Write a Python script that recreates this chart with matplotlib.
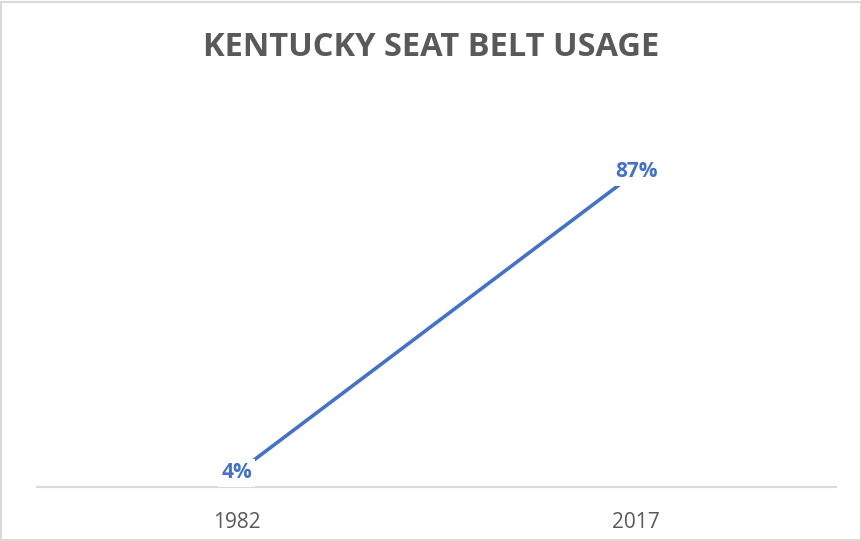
import matplotlib.pyplot as plt

years = ['1982', '2017']
usage = [4, 87]
labels = ['4%', '87%']

blue = '#4472C4'
gray = '#595959'

fig = plt.figure(figsize=(8.62, 5.41), dpi=100)
ax = fig.add_axes([0.0429, 0.0989, 0.9271, 0.6704])

x = list(range(len(years)))
ax.plot(x, usage, color=blue, linewidth=2.6, solid_capstyle='butt', zorder=2)

# data labels sit on the points with a white box, like the excel chart
for xi, v, lab in zip(x, usage, labels):
    ax.annotate(lab, (xi, v), ha='center', va='center', fontsize=15,
                fontweight='bold', color=blue, family='Open Sans', zorder=3,
                bbox=dict(boxstyle='square,pad=0.15', fc='white', ec='none'))

ax.set_xlim(-0.5, 1.5)
ax.set_ylim(0, 100)
ax.set_xticks(x)
ax.set_xticklabels(years, fontsize=15, color=gray, family='Open Sans')
ax.tick_params(axis='x', length=0, pad=18)
ax.set_yticks([])
for side in ['top', 'right', 'left']:
    ax.spines[side].set_visible(False)
ax.spines['bottom'].set_color('#D9D9D9')
ax.spines['bottom'].set_linewidth(1.5)
ax.spines['bottom'].set_zorder(1)

fig.text(0.5, 0.913, 'KENTUCKY SEAT BELT USAGE', ha='center', va='center',
         fontsize=23.5, fontweight='bold', color=gray, family='Open Sans')

# light border around the whole chart
fig.patches.append(plt.Rectangle((0.001, 0.001), 0.998, 0.996, transform=fig.transFigure,
                                 fill=False, ec='#D9D9D9', lw=1.5))

fig.savefig('out.png', dpi=100)
